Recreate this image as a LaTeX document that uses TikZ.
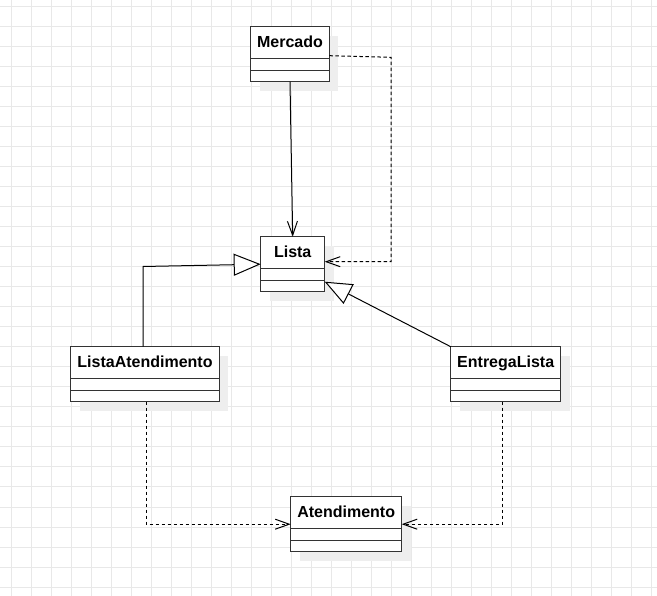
\documentclass[tikz,border=0pt]{standalone}
\usepackage{fontspec}
\setmainfont{Liberation Sans}
\usepackage{tikz}
\usetikzlibrary{arrows.meta,shadows}
\definecolor{umlline}{RGB}{51,51,51}
\definecolor{umlgrid}{RGB}{232,232,232}
\definecolor{umlshadow}{RGB}{238,238,238}

\begin{document}
\begin{tikzpicture}[x=1pt,y=-1pt,
  gridline/.style={draw=umlgrid, line width=1pt},
  umlclass/.style={draw=umlline, line width=1.3pt, fill=white, anchor=north west,
    outer sep=0pt, inner xsep=0pt, inner ysep=0pt,
    font=\fontsize{16}{19}\selectfont\bfseries,
    text height=20.6pt, text depth=34.4pt,
    drop shadow={shadow xshift=9pt, shadow yshift=-9pt, fill=umlshadow, opacity=1}},
  compart/.style={draw=umlline, line width=1.3pt},
  assoc/.style={draw=black, line width=1pt, -{Straight Barb[length=14pt,width=10pt]}},
  dep/.style={assoc, dash pattern=on 3.5pt off 2.5pt},
  inherit/.style={draw=black, line width=1pt, -{Triangle[length=27pt,width=22pt,fill=white]}}]
\useasboundingbox (0,0) rectangle (657,596);

% background grid
\foreach \gx in {0,...,32}
  \draw[gridline] (11.5+20*\gx,0) -- (11.5+20*\gx,596);
\foreach \gy in {0,...,29}
  \draw[gridline] (0,7+20*\gy) -- (657,7+20*\gy);

% classes
\node[umlclass, minimum width=78.6pt] (mercado) at (250.7,26.7) {Mercado};
\node[umlclass, minimum width=64pt] (lista) at (260.7,236.7) {Lista};
\node[umlclass, minimum width=148.6pt] (listaAtend) at (70.7,346.7) {ListaAtendimento};
\node[umlclass, minimum width=110pt] (entrega) at (450.7,346.7) {EntregaLista};
\node[umlclass, minimum width=111pt] (atend) at (290.7,496.7) {Atendimento};

\foreach \n in {mercado,lista,listaAtend,entrega,atend} {
  \draw[compart] ([yshift=-31.6pt]\n.north west) -- ([yshift=-31.6pt]\n.north east);
  \draw[compart] ([yshift=-44pt]\n.north west) -- ([yshift=-44pt]\n.north east);
}

% bends
\coordinate (bendM) at (391,57.3);
\coordinate (bendL) at (143,266.5);

% connectors
\draw[assoc] (mercado.south) -- (lista.north);
\draw[dep] ([yshift=-1.5pt]mercado.east) -- (bendM) |- ([yshift=2.5pt]lista.east);
\draw[inherit] ([xshift=-2pt]listaAtend.north) -- (bendL) -- (lista.west);
\draw[inherit] (entrega.north west) -- ([yshift=10pt]lista.south east);
\draw[dep] ([xshift=1pt]listaAtend.south) |- (atend.west);
\draw[dep] ([xshift=-3pt]entrega.south) |- (atend.east);
\end{tikzpicture}
\end{document}
